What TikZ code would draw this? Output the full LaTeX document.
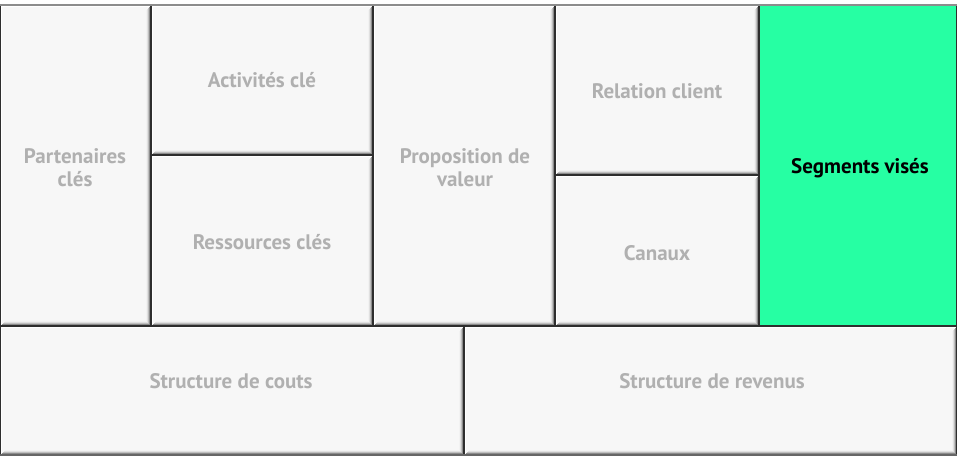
\documentclass[tikz,border=0pt]{standalone}
\usepackage{fontspec}
\setmainfont{PT Sans}
\usetikzlibrary{positioning}

\definecolor{cellfill}{RGB}{247,247,247}
\definecolor{celltext}{RGB}{176,176,176}
\definecolor{segmentgreen}{RGB}{38,255,163}

\tikzset{
  celllabel/.style={text=celltext, font=\fontsize{21}{23}\selectfont\bfseries, align=center},
  celledge/.style={draw=black!82, line width=1.6pt},
}

% one bevelled cell of the canvas: x1, y1, x2, y2, fill
\newcommand{\canvascell}[5]{
  \fill[#5] (#1,#2) rectangle (#3,#4);
  \draw[white, line width=1pt] (#1+1.5,#4-2) -- (#1+1.5,#2+1.5) -- (#3-2,#2+1.5);
  \draw[black!45, line width=1pt] (#1+2,#4-2) -- (#3-2,#4-2) -- (#3-2,#2+2);
  \draw[black!25, line width=1pt] (#1+3,#4-3) -- (#3-3,#4-3) -- (#3-3,#2+3);
  \draw[black!12, line width=1pt] (#1+4,#4-4) -- (#3-4,#4-4) -- (#3-4,#2+4);
  \draw[black!5, line width=1pt] (#1+5,#4-5) -- (#3-5,#4-5) -- (#3-5,#2+5);
  \draw[celledge] (#1,#2) rectangle (#3,#4);
}

\begin{document}
\begin{tikzpicture}[x=1pt, y=-1pt]
\useasboundingbox (0,0) rectangle (957,458);
\fill[white] (0,0) rectangle (957,458);

% top row
\canvascell{0}{5}{151}{326}{cellfill}
\canvascell{151}{5}{373}{155}{cellfill}
\canvascell{151}{155}{373}{326}{cellfill}
\canvascell{373}{5}{555}{326}{cellfill}
\canvascell{555}{5}{759}{175}{cellfill}
\canvascell{555}{175}{759}{326}{cellfill}
\fill[segmentgreen] (759,5) rectangle (957,326);
\draw[celledge] (759,5) rectangle (957,326);

% bottom row
\canvascell{0}{326}{464}{455}{cellfill}
\canvascell{464}{326}{957}{455}{cellfill}

% outer frame
\draw[black!45, line width=1.2pt] (0,5) -- (957,5);
\draw[black!60, line width=2pt] (0,455) -- (957,455);

\node[celllabel] (partners) at (75,168) {Partenaires\\clés};
\node[celllabel] (activities) at (262,80) {Activités clé};
\node[celllabel] (resources) at (262,242) {Ressources clés};
\node[celllabel] (proposition) at (465,168) {Proposition de\\valeur};
\node[celllabel] (relation) at (657,91) {Relation client};
\node[celllabel] (channels) at (657,253) {Canaux};
\node[celllabel, text=black] (segments) at (860,168) {Segments visés};
\node[celllabel] (costs) at (231,381) {Structure de couts};
\node[celllabel] (revenues) at (712,381) {Structure de revenus};

\end{tikzpicture}
\end{document}
